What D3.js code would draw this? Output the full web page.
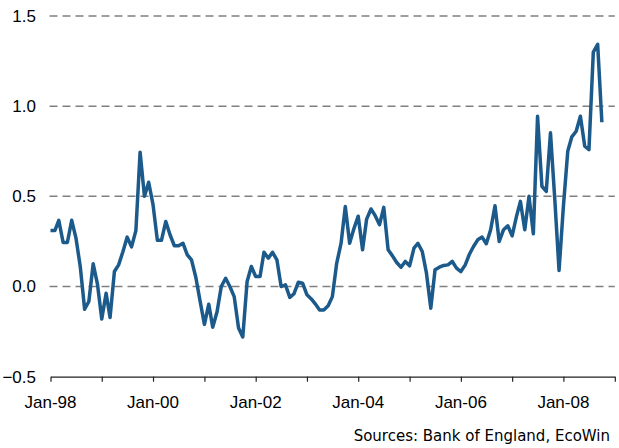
<!DOCTYPE html>
<html>
<head>
<meta charset="utf-8">
<script src="https://cdn.jsdelivr.net/npm/d3@7"></script>
<style>
  html, body { margin: 0; padding: 0; background: #fff; }
  svg { display: block; }
</style>
</head>
<body>
<svg id="chart" width="619" height="448"></svg>
<script>
// Monthly series, Jan-1998 onwards
const startYear = 1998;
const values = [
  0.31, 0.31, 0.367, 0.244, 0.244, 0.367, 0.27, 0.11, -0.126, -0.083, 0.126, 0.015,
  -0.18, -0.037, -0.172, 0.083, 0.12, 0.194, 0.274, 0.22, 0.31, 0.745, 0.5, 0.578,
  0.454, 0.256, 0.256, 0.361, 0.287, 0.226, 0.226, 0.24, 0.176, 0.148, 0.05, -0.08,
  -0.21, -0.098, -0.226, -0.14, 0.0, 0.046, 0.0, -0.056, -0.23, -0.28, 0.028, 0.111,
  0.056, 0.056, 0.19, 0.157, 0.19, 0.148, 0.0, 0.009, -0.06, -0.04, 0.024, 0.019,
  -0.046, -0.069, -0.096, -0.13, -0.13, -0.107, -0.056, 0.13, 0.24, 0.444, 0.24, 0.32,
  0.39, 0.204, 0.374, 0.43, 0.393, 0.343, 0.439, 0.204, 0.17, 0.133, 0.107, 0.139,
  0.115, 0.213, 0.24, 0.194, 0.074, -0.12, 0.093, 0.107, 0.117, 0.12, 0.139, 0.102,
  0.083, 0.12, 0.176, 0.222, 0.259, 0.274, 0.237, 0.315, 0.448, 0.25, 0.315, 0.337,
  0.281, 0.389, 0.472, 0.315, 0.5, 0.293, 0.944, 0.556, 0.528, 0.852, 0.48, 0.089,
  0.444, 0.75, 0.83, 0.861, 0.944, 0.778, 0.759, 1.3, 1.343, 0.911
];
const yTicks = [-0.5, 0.0, 0.5, 1.0, 1.5];
const xTickYears = [1998, 1999, 2000, 2001, 2002, 2003, 2004, 2005, 2006, 2007, 2008, 2009];
const xLabelYears = [1998, 2000, 2002, 2004, 2006, 2008];
const sourceText = "Sources: Bank of England, EcoWin";

const data = values.map((v, i) => ({ date: new Date(startYear, i, 1), value: v }));

const svg = d3.select("#chart");
const margin = { left: 50.5, right: 4.2, top: 16, bottom: 71.3 };
const W = 619, H = 448;

const x = d3.scaleTime()
  .domain([new Date(1998, 0, 1), new Date(2009, 0, 1)])
  .range([margin.left, W - margin.right]);
const y = d3.scaleLinear()
  .domain([-0.5, 1.5])
  .range([H - margin.bottom, margin.top]);

// Gridlines (dashed) for values above the baseline
svg.append("g")
  .selectAll("line")
  .data(yTicks.filter(t => t > -0.5))
  .join("line")
  .attr("x1", x.range()[0] - 1)
  .attr("x2", x.range()[1])
  .attr("y1", d => y(d))
  .attr("y2", d => y(d))
  .attr("stroke", "#808080")
  .attr("stroke-width", 1.5)
  .attr("stroke-dasharray", "8,5");

// Y axis labels
svg.append("g")
  .selectAll("text")
  .data(yTicks)
  .join("text")
  .attr("x", 36)
  .attr("y", d => y(d))
  .attr("dy", "0.35em")
  .attr("text-anchor", "end")
  .attr("font-family", "Liberation Sans, Arial, sans-serif")
  .attr("font-size", 17)
  .attr("fill", "#000")
  .text(d => d3.format(".1f")(d));

// X axis
const xAxis = d3.axisBottom(x)
  .tickValues(xTickYears.map(yr => new Date(yr, 0, 1)))
  .tickSize(5)
  .tickSizeOuter(0)
  .tickFormat("");
const gx = svg.append("g")
  .attr("transform", `translate(0,${y(-0.5)})`)
  .call(xAxis);
gx.select(".domain").attr("stroke", "#222").attr("stroke-width", 1.2);
gx.selectAll(".tick line").attr("stroke", "#222").attr("stroke-width", 1.2);

const fmt = d3.timeFormat("%b-%y");
svg.append("g")
  .selectAll("text")
  .data(xLabelYears.map(yr => new Date(yr, 0, 1)))
  .join("text")
  .attr("x", d => x(d))
  .attr("y", 408)
  .attr("text-anchor", "middle")
  .attr("font-family", "Liberation Sans, Arial, sans-serif")
  .attr("font-size", 17)
  .attr("fill", "#000")
  .text(d => fmt(d));

// Line
const line = d3.line()
  .x(d => x(d.date))
  .y(d => y(d.value));
svg.append("path")
  .datum(data)
  .attr("d", line)
  .attr("fill", "none")
  .attr("stroke", "#1b5a8a")
  .attr("stroke-width", 3.5)
  .attr("stroke-linejoin", "round");

// Source note
svg.append("text")
  .attr("x", 610)
  .attr("y", 441)
  .attr("text-anchor", "end")
  .attr("font-family", "DejaVu Sans, sans-serif")
  .attr("font-size", 15)
  .attr("fill", "#000")
  .text(sourceText);
</script>
</body>
</html>
